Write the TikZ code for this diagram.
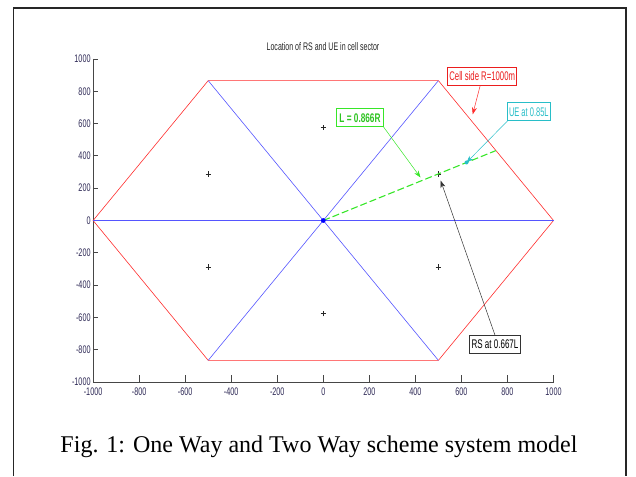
\documentclass[tikz,border=0pt]{standalone}
\usepackage{fontspec}
\setmainfont{Liberation Serif}
\newfontfamily\arialfont{Liberation Sans}
\usetikzlibrary{arrows.meta}

\definecolor{hexred}{RGB}{255,45,45}
\definecolor{diagblue}{RGB}{85,85,255}
\definecolor{axisgray}{RGB}{70,70,70}
\definecolor{ticktext}{RGB}{45,40,85}
\definecolor{lgreen}{RGB}{55,230,40}
\definecolor{uecyan}{RGB}{40,190,200}
\definecolor{boxred}{RGB}{235,30,30}

% horizontally condensed text, as in the plot labels
\newcommand{\condensed}[2][0.66]{\scalebox{#1}[1]{#2}}

\begin{document}
\begin{tikzpicture}[x=1pt,y=1pt,
  ticklabel/.style={font=\fontsize{11}{11}\selectfont\arialfont, text=ticktext, inner sep=0pt},
  marker/.style={black!85, line width=0.55pt},
  annbox/.style={draw, fill=white, line width=0.6pt, inner sep=0pt, minimum height=18pt,
                 font=\fontsize{12.5}{12.5}\selectfont\arialfont},
  annarrow/.style={-{Stealth[length=7pt,width=5pt]}, line width=0.5pt}]

\useasboundingbox (0,0) rectangle (636,476);

% outer frame
\draw[black!85, line width=1.6pt] (13.5,0) -- (13.5,468) -- (626,468) -- (626,0);

% caption
\node[font=\fontsize{24}{24}\selectfont, anchor=base] (caption) at (319,24)
  {Fig. 1: One Way and Two Way scheme system model};

% plot title
\node[font=\fontsize{11}{11}\selectfont\arialfont, text=black!85] (title) at (323,429)
  {\condensed[0.64]{Location of RS and UE in cell sector}};

% data coordinates: x,y in metres
\begin{scope}[shift={(323.3,255.5)}, x=0.2302pt, y=0.1615pt]
  % axes
  \draw[axisgray, line width=0.8pt] (-1000,1000) -- (-1000,-1000) -- (1000,-1000);
  \foreach \v in {-1000,-800,...,1000} {
    \draw[axisgray, line width=0.8pt] (\v,-1000) -- ++(0,7pt);
    \node[ticklabel, anchor=north] at ([yshift=-5.5pt]\v,-1000) {\condensed[0.66]{\v}};
    \draw[axisgray, line width=0.8pt] (-1000,\v) -- ++(5pt,0);
    \node[ticklabel, anchor=east] at ([xshift=-2.3pt]-1000,\v) {\condensed[0.66]{\v}};
  }

  % cell hexagon and sector borders
  \draw[hexred, line width=0.6pt] (-1000,0) -- (-500,866) -- (500,866) -- (1000,0)
        -- (500,-866) -- (-500,-866) -- cycle;
  \draw[diagblue, line width=0.6pt] (-1000,0) -- (1000,0);
  \draw[diagblue, line width=0.6pt] (-500,866) -- (500,-866);
  \draw[diagblue, line width=0.6pt] (500,866) -- (-500,-866);

  % sector centres
  \foreach \p in {(500,288.7),(-500,288.7),(500,-288.7),(-500,-288.7),(0,577.4),(0,-577.4)}
    \draw[marker] \p +(-2.7pt,0) -- +(2.7pt,0) \p +(0,-2.7pt) -- +(0,2.7pt);

  % link of length L = 0.866R at 30 degrees
  \draw[lgreen, line width=1.1pt, dash pattern=on 7pt off 3pt] (0,0) -- (750,433);

  % base station
  \fill[blue] (0,0) circle (2.4pt);
\end{scope}

% annotation boxes
\node[annbox, draw=boxred, text=boxred, minimum width=69pt] (cellbox) at (482.2,399.8)
  {\condensed[0.62]{Cell side R=1000m}};
\node[annbox, draw=uecyan, text=uecyan, minimum width=42.3pt] (uebox) at (528.8,364.2)
  {\condensed[0.6]{UE at 0.85L}};
\node[annbox, draw=lgreen, text=lgreen!85!black, minimum width=46.7pt,
      font=\fontsize{12.5}{12.5}\selectfont\arialfont\bfseries] (lbox) at (360,358.2)
  {\condensed[0.66]{L = 0.866R}};
\node[annbox, draw=black!80, text=black, minimum width=51.4pt] (rsbox) at (495,131.5)
  {\condensed[0.64]{RS at 0.667L}};

% arrow targets
\coordinate (edge) at (472.7,361.7);
\coordinate (ue) at (466.5,313.5);
\coordinate (link) at (420.5,298.5);
\coordinate (rs) at (440.7,295.3);

\fill[uecyan] (ue) circle (2pt);
\draw[annarrow, hexred] ([xshift=-2pt]cellbox.south) -- (edge);
\draw[annarrow, uecyan] (uebox.south west) -- (ue);
\draw[annarrow, lgreen] (lbox.south east) -- (link);
\draw[annarrow, black!80] (rsbox.north) -- (rs);

\end{tikzpicture}
\end{document}
